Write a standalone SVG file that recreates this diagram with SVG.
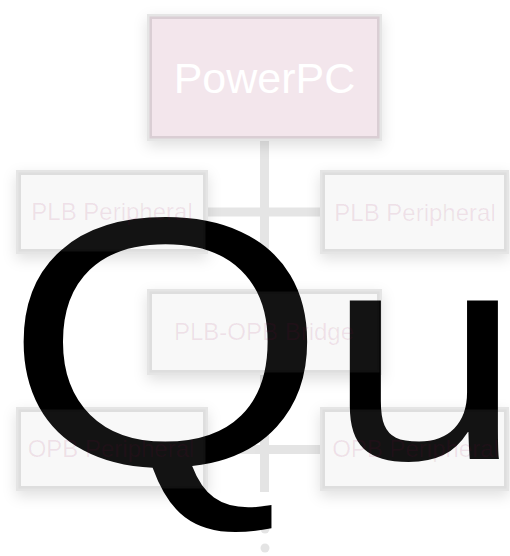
<svg xmlns="http://www.w3.org/2000/svg" width="510" height="556" viewBox="0 0 510 556">
<defs>
<filter id="sh" x="-20%" y="-40%" width="140%" height="190%">
<feGaussianBlur in="SourceAlpha" stdDeviation="7"/>
<feOffset dy="5" result="b"/>
<feFlood flood-color="#000" flood-opacity="0.12"/>
<feComposite in2="b" operator="in" result="s"/>
<feComposite in="s" in2="SourceAlpha" operator="out"/>
</filter>
<style>
.big{font-family:"Liberation Sans",Arial,sans-serif;fill:#000}
.shadow{fill:#000;filter:url(#sh)}
.box{fill:#b7b7b7;fill-opacity:0.1;stroke:#000;stroke-opacity:0.1;stroke-width:5}
.cpu{fill:#f3e6ec;stroke:#000;stroke-opacity:0.1;stroke-width:5}
.lbl{font-family:"Liberation Sans",Arial,sans-serif;font-size:24px;fill:#96004a;fill-opacity:0.09;text-anchor:middle}
.cpul{font-family:"Liberation Sans",Arial,sans-serif;font-size:43px;fill:#fff;text-anchor:middle}
.wire{stroke:#000;stroke-width:9;fill:none}
</style>
</defs>
<rect width="510" height="556" fill="#fff"/>
<text class="big" transform="scale(1.17 1)" x="3.4" y="465"><tspan font-size="355">Q</tspan><tspan font-size="300" dy="-6">u</tspan></text>
<g id="shadows">
<rect class="shadow" x="147" y="14" width="235" height="127"/>
<rect class="shadow" x="16" y="170" width="192" height="84"/>
<rect class="shadow" x="320" y="170" width="189" height="84"/>
<rect class="shadow" x="147" y="289" width="235" height="86"/>
<rect class="shadow" x="16" y="407" width="192" height="84"/>
<rect class="shadow" x="320" y="407" width="189" height="84"/>
</g>
<g id="connectors" opacity="0.1">
<path class="wire" d="M264.5 141V289M208 212H320M264.5 375V492M208 449.5H320"/>
<circle cx="265" cy="510" r="4.5"/>
<circle cx="265" cy="529" r="4.5"/>
<circle cx="265" cy="548" r="4.5"/>
</g>
<g id="powerpc">
<rect class="cpu" x="149.5" y="16.5" width="230" height="122"/>
<text class="cpul" x="264.5" y="93">PowerPC</text>
</g>
<g id="plb-left">
<rect class="box" x="18.5" y="172.5" width="187" height="79"/>
<text class="lbl" x="112" y="220">PLB Peripheral</text>
</g>
<g id="plb-right">
<rect class="box" x="322.5" y="172.5" width="184" height="79"/>
<text class="lbl" x="415" y="221">PLB Peripheral</text>
</g>
<g id="bridge">
<rect class="box" x="149.5" y="291.5" width="230" height="81"/>
<text class="lbl" x="264" y="340">PLB-OPB Bridge</text>
</g>
<g id="opb-left">
<rect class="box" x="18.5" y="409.5" width="187" height="79"/>
<text class="lbl" x="111" y="457">OPB Peripheral</text>
</g>
<g id="opb-right">
<rect class="box" x="322.5" y="409.5" width="184" height="79"/>
<text class="lbl" x="415.5" y="457">OPB Peripheral</text>
</g>
</svg>
